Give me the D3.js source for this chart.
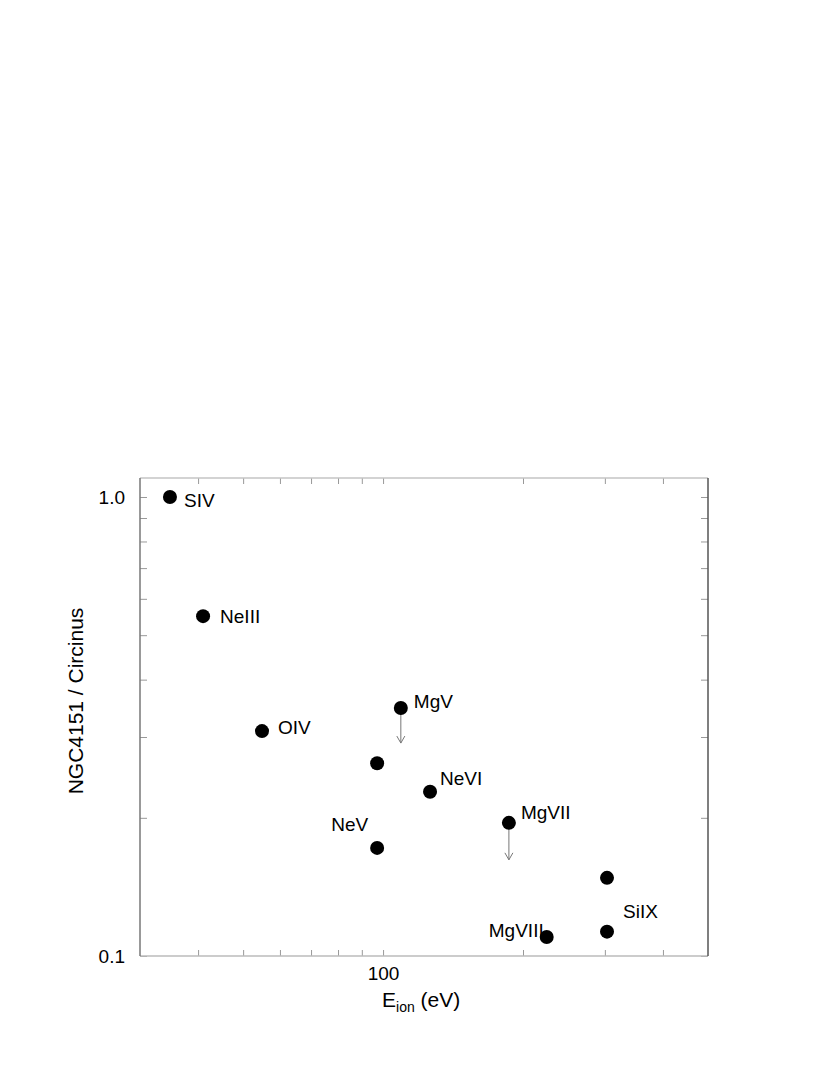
<!DOCTYPE html>
<html>
<head>
<meta charset="utf-8">
<script src="https://cdn.jsdelivr.net/npm/d3@7"></script>
<style>
  body { margin: 0; background: #fff; }
  svg { display: block; font-family: "Liberation Sans", Arial, Helvetica, sans-serif; }
  .axis text { font-size: 19px; fill: #000; }
  .label { font-size: 19px; fill: #000; }
  .title { font-size: 21px; fill: #000; }
</style>
</head>
<body>
<svg id="chart" width="830" height="1075"></svg>
<script>
// ionisation energy (eV) and NGC4151 / Circinus line ratio
var ions   = ["SIV", "NeIII", "OIV", "MgV", "NeV", "NeVI", "NeV", "MgVII", "SiIX", "SiIX", "MgVIII"];
var eIon   = [34.8, 41.0, 54.9, 109.2, 97.1, 126.2, 97.1, 186.5, 303.2, 303.2, 224.9];
var ratio  = [1.0, 0.55, 0.309, 0.347, 0.263, 0.228, 0.172, 0.195, 0.148, 0.113, 0.110];
var shown  = [true, true, true, true, false, true, true, true, false, true, true];
// upper limits: arrow drawn down to this value (null = no arrow)
var limitTo = [null, null, null, 0.291, null, null, null, 0.162, null, null, null];

var xTicks = [40, 50, 60, 70, 80, 90, 100, 200, 300, 400];
var xLabeled = [100];
var yTicks = [0.1, 0.2, 0.3, 0.4, 0.5, 0.6, 0.7, 0.8, 0.9, 1.0];
var yLabeled = [0.1, 1.0];

// label placement relative to its point (px)
var labelPos = [
  {dx: 14, dy: 10, anchor: "start"},
  {dx: 17, dy: 7, anchor: "start"},
  {dx: 16, dy: 3, anchor: "start"},
  {dx: 13, dy: 0, anchor: "start"},
  null,
  {dx: 10, dy: -7, anchor: "start"},
  {dx: -9, dy: -17, anchor: "end"},
  {dx: 12, dy: -4, anchor: "start"},
  null,
  {dx: 16, dy: -14, anchor: "start"},
  {dx: -3, dy: 0, anchor: "end"}
];

var svg = d3.select("#chart"),
    margin = {top: 478, right: 122, bottom: 119, left: 140},
    width = svg.attr("width") - margin.left - margin.right,
    height = svg.attr("height") - margin.top - margin.bottom;

var x = d3.scaleLog().domain([30, 500]).range([0, width]),
    y = d3.scaleLog().domain([0.1, 1.1]).range([height, 0]);

var g = svg.append("g")
    .attr("transform", "translate(" + margin.left + "," + margin.top + ")");

var data = ions.map(function(d, i) {
  return {ion: d, e: eIon[i], r: ratio[i], shown: shown[i], lim: limitTo[i], pos: labelPos[i]};
});

function fmtX(d) { return xLabeled.indexOf(d) >= 0 ? d3.format("d")(d) : ""; }
function fmtY(d) { return yLabeled.indexOf(d) >= 0 ? d3.format(".1f")(d) : ""; }

g.append("g")
    .attr("class", "axis axis--x")
    .attr("transform", "translate(0," + height + ")")
    .call(d3.axisBottom(x).tickValues(xTicks).tickSizeInner(-6).tickSizeOuter(0).tickPadding(11).tickFormat(fmtX));

g.append("g")
    .attr("class", "axis axis--x2")
    .call(d3.axisTop(x).tickValues(xTicks).tickSizeInner(-6).tickSizeOuter(0).tickFormat(""));

g.append("g")
    .attr("class", "axis axis--y")
    .call(d3.axisLeft(y).tickValues(yTicks).tickSizeInner(-7).tickSizeOuter(0).tickPadding(15).tickFormat(fmtY));

g.append("g")
    .attr("class", "axis axis--y2")
    .attr("transform", "translate(" + width + ",0)")
    .call(d3.axisRight(y).tickValues(yTicks).tickSizeInner(-7).tickSizeOuter(0).tickFormat(""));

g.selectAll(".axis .domain").remove();
g.selectAll(".axis line").attr("stroke", "#999");

// frame
g.append("line").attr("x1", 0).attr("x2", width).attr("y1", 0).attr("y2", 0)
    .attr("stroke", "#c4c4c4").attr("stroke-width", 1.5);
g.append("line").attr("x1", 0).attr("x2", width).attr("y1", height).attr("y2", height)
    .attr("stroke", "#bbb").attr("stroke-width", 1.5);
g.append("line").attr("x1", 0).attr("x2", 0).attr("y1", 0).attr("y2", height)
    .attr("stroke", "#777").attr("stroke-width", 1.5);
g.append("line").attr("x1", width).attr("x2", width).attr("y1", 0).attr("y2", height)
    .attr("stroke", "#555").attr("stroke-width", 1.5);

// upper-limit arrows
var lims = data.filter(function(d) { return d.lim !== null; });

g.selectAll(".limit")
    .data(lims)
    .enter().append("path")
    .attr("class", "limit")
    .attr("fill", "none")
    .attr("stroke", "#777")
    .attr("stroke-width", 1)
    .attr("d", function(d) {
      var px = x(d.e), y0 = y(d.r), y1 = y(d.lim);
      return "M" + px + "," + y0 + "V" + y1 +
        "M" + (px - 4) + "," + (y1 - 7) + "L" + px + "," + y1 + "L" + (px + 4) + "," + (y1 - 7);
    });

g.selectAll(".dot")
    .data(data)
    .enter().append("circle")
    .attr("class", "dot")
    .attr("cx", function(d) { return x(d.e); })
    .attr("cy", function(d) { return y(d.r); })
    .attr("r", 7)
    .attr("fill", "#000");

g.selectAll(".label")
    .data(data.filter(function(d) { return d.shown; }))
    .enter().append("text")
    .attr("class", "label")
    .attr("x", function(d) { return x(d.e) + d.pos.dx; })
    .attr("y", function(d) { return y(d.r) + d.pos.dy; })
    .style("text-anchor", function(d) { return d.pos.anchor; })
    .text(function(d) { return d.ion; });

// axis titles
var xt = g.append("text")
    .attr("class", "title")
    .attr("x", 242)
    .attr("y", height + 51)
    .style("text-anchor", "start");
xt.append("tspan").text("E");
xt.append("tspan").attr("dy", 5).style("font-size", "14px").text("ion");
xt.append("tspan").attr("dy", -5).text(" (eV)");

g.append("text")
    .attr("class", "title")
    .attr("transform", "translate(-57," + (height / 2 - 16) + ") rotate(-90)")
    .style("text-anchor", "middle")
    .text("NGC4151 / Circinus");
</script>
</body>
</html>
